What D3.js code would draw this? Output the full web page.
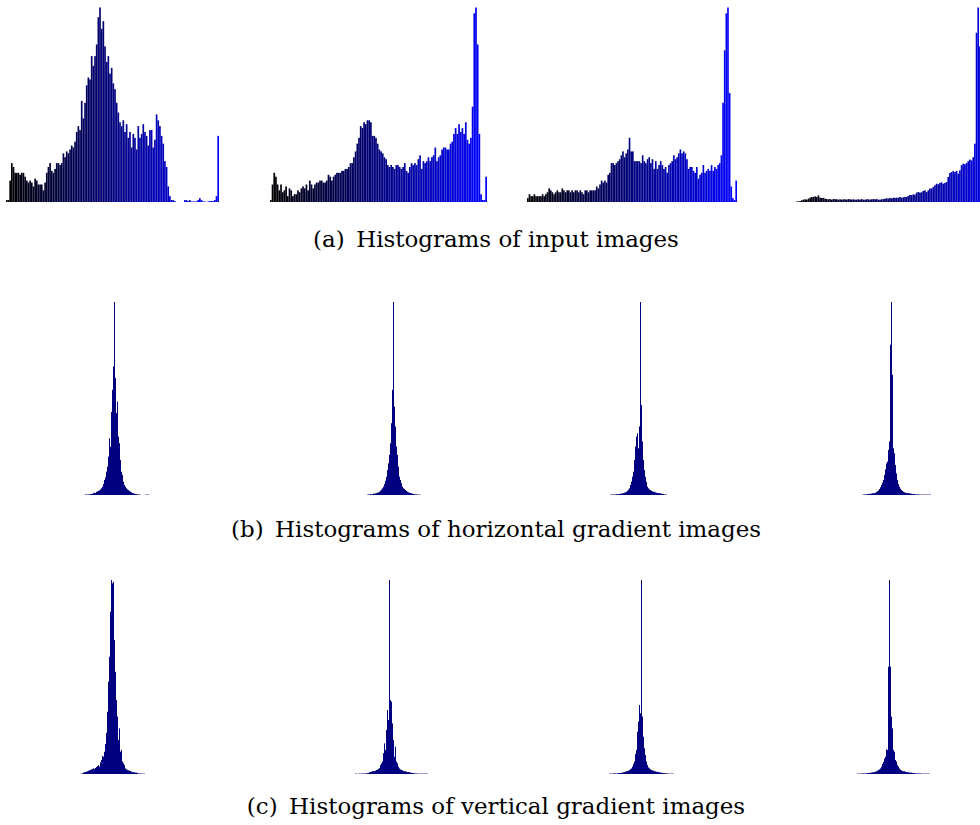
<!DOCTYPE html>
<html><head><meta charset="utf-8">
<script src="https://cdn.jsdelivr.net/npm/d3@7"></script>
<style>html,body{margin:0;padding:0;background:#fff;}svg{display:block;}</style>
</head><body>
<script>
// ---- data: histogram heights (relative counts, each panel's max = 100) ----
const inputHist1 = [1,1,11,20,18,15,15,15,14,15,15,13,11,10,11,10,8,12,11,9,9,9,6,10,15,18,20,16,15,17,20,20,19,20,25,23,26,25,27,29,28,31,36,39,37,52,43,51,60,64,63,75,70,75,81,95,100,89,93,80,72,75,66,69,61,58,51,46,41,39,42,36,40,33,36,28,35,33,27,39,33,35,40,36,34,29,37,37,28,32,45,42,39,34,30,21,18,8,3,1,1,0.5,0,0,0,0,0,1,1,0.5,1,0.3,0.3,0.3,0.3,1,2,1,0.3,0.3,0,0.3,0.5,0.5,0.5,1,3,34];
const inputHist2 = [1,9,15,13,9,6,9,5,6,8,3,7,6,3,4,4,6,5,7,8,7,9,6,11,9,7,9,10,10,11,11,10,10,11,14,13,11,13,14,15,15,15,16,16,17,17,18,20,20,23,26,30,33,39,38,41,40,42,42,41,34,34,33,30,27,26,25,23,22,19,18,19,18,17,19,19,18,17,18,20,16,15,18,20,19,20,19,22,24,17,21,20,21,23,21,23,24,28,21,23,24,27,28,28,27,27,30,31,35,38,35,40,36,38,35,41,32,30,33,49,97,100,81,35,4,1,1,13];
const inputHist3 = [2,4,3,3,4,3,3,3,3,4,3,4,5,7,6,5,4,5,6,5,5,7,6,5,6,6,5,6,5,6,6,5,6,5,4,6,6,5,6,6,6,6,8,7,9,11,10,11,10,14,15,20,20,19,20,21,22,24,26,23,25,27,33,26,26,21,21,21,21,20,24,21,20,22,23,20,22,17,21,17,19,21,19,17,18,15,19,20,21,24,22,23,25,27,25,26,25,22,17,18,18,16,15,18,12,14,15,19,15,16,17,16,19,16,18,17,19,20,24,51,78,97,100,56,8,2,1,11];
const inputHist4 = [0.3,0.3,0.5,0.9,1.2,1.4,1.2,1.7,2.2,2.6,2.6,2.9,2.6,3.4,2.2,2.1,2.1,1.7,1.5,1.4,1.5,1.2,1.5,1.5,1.4,1.2,1.4,1.2,1.4,1.4,1.2,1.5,1.4,1.2,1.4,1.2,1.2,1.4,1.2,1.5,1.2,1.2,1.4,1.4,1.2,1.4,1.5,1.4,1.5,1.2,1.2,1.4,1.5,1.7,1.9,1.7,2.1,1.9,2.2,2.1,2.2,2.2,2.6,2.2,2.4,2.6,2.6,3.1,3.6,3.6,3.9,3.8,4.8,5.1,4.8,5.0,5.7,6.0,5.1,6.0,6.9,7.0,7.7,8.6,9.4,9.1,9.8,10.1,9.4,9.8,10.3,12.9,14.9,15.4,16,15.4,16,14.6,16.3,18.9,19.7,19.4,20,21,21.8,21.4,23,30,87,100,80];
const inputBins = 128; // intensity bins per input histogram (shown range)

const horizHist1 = [0.3,0.3,0.2,0.3,0.3,0.5,0.5,0.7,0.9,1.2,1.0,1.6,1.9,2.1,2.4,2.9,3.5,4.3,5.7,7.8,9.2,12.1,14.7,19.9,29.4,25,43,54.5,66.6,100,60.6,42.4,48.4,30.3,26.8,18.2,12.1,10.4,6.9,5.2,4.3,3.5,2.9,2.6,2.1,1.7,1.4,1.0,0.9,0.7,0.5,0.5,0.3,0.3,0.2,0.2,0,0,0,0,0.2,0.2,0.2,0.2,0];
const horizHist2 = [0.2,0.3,0.3,0.5,0.3,0.5,0.7,0.7,0.9,1.0,1.2,1.4,1.7,2.2,2.8,3.5,4.3,5.7,7.4,9.5,13,16.4,20.8,26.8,37.2,54.5,100,45.8,35.5,25.1,20.8,14.7,9.5,7.8,6.1,4.3,3.5,3.1,2.6,2.1,1.7,1.4,1.2,1.0,0.9,0.7,0.5,0.5,0.3,0.3,0.3,0.2,0.2,0.2];
const horizHist3 = [0.2,0.2,0.3,0.2,0.3,0.3,0.5,0.3,0.5,0.5,0.7,0.7,0.9,1.0,1.2,1.4,1.7,2.2,2.8,3.5,5.2,6.9,9.5,12.1,18.2,25.1,30.3,32,24.2,35.5,100,46.7,27.7,18.2,13,9.5,6.9,4.3,3.5,2.9,2.6,2.1,1.9,1.7,1.6,1.4,1.2,1.0,1.0,0.9,0.9,0.7,0.5,0.5,0.3,0.3,0.2];
const horizHist4 = [0.2,0.2,0.3,0.3,0.3,0.5,0.5,0.5,0.7,0.7,0.9,0.9,1.0,1.2,1.6,1.9,2.4,3.1,4.0,5.2,6.4,7.8,10.4,13.3,16.4,17.3,23.4,27.7,77.9,100,62.3,24.2,21.6,15.6,11.2,7.8,5.7,4.3,3.3,2.6,2.1,1.7,1.4,1.2,1.0,1.0,0.9,0.9,0.7,0.7,0.5,0.5,0.5,0.3,0.3,0.3,0.3,0.3,0.2,0.2,0.2,0.2,0.2,0.2,0.2,0.2,0.2,0.2,0.2];

const vertHist1 = [0.3,0.3,0.7,0.9,1.0,1.2,1.4,1.7,1.9,2.1,2.4,2.6,2.9,2.7,3.1,3.6,4.1,4.6,3.8,6.0,7.2,9.3,8.9,11.5,15.5,21.3,32.1,47.6,60.5,83.7,100,98.3,99.1,69.1,52.7,38.1,29.6,17.5,23.5,11.5,12.4,6.4,5.5,4.6,2.9,2.4,2.1,1.9,1.7,1.5,1.2,1.0,0.9,0.9,0.7,0.7,0.5,0.3,0.3,0.3,0.2,0.2,0.2,0.2];
const vertHist2 = [0.2,0.2,0,0.2,0.2,0.2,0.2,0.3,0.2,0.3,0.3,0.3,0.5,0.5,0.9,1.0,1.2,1.4,1.5,1.5,1.7,2.1,2.2,2.6,3.1,4.6,5.5,6.4,10.7,15.8,12.4,22.7,33,27.8,100,38.1,37.3,26.1,17.5,8.9,14.1,6.4,5.5,3.8,2.9,2.4,2.1,1.9,1.5,1.4,1.4,1.2,1.0,1.0,0.9,0.7,0.7,0.5,0.5,0.3,0.3,0.3,0.2,0.2,0.2,0.2,0.2,0.2,0.2,0.2,0.2,0.2,0.2];
const vertHist3 = [0.2,0.2,0.2,0.2,0.3,0.3,0.3,0.3,0.3,0.5,0.5,0.5,0.7,0.7,0.9,1.0,1.2,1.4,1.5,1.7,2.1,2.4,2.9,3.8,5.2,6.4,10.3,12.4,21.8,27,35.6,31.3,100,29.6,19.2,13.2,9.8,6.4,4.6,3.4,2.9,2.4,2.1,1.9,1.7,1.4,1.4,1.2,1.0,1.0,0.9,0.7,0.7,0.5,0.5,0.5,0.3,0.3,0.3,0.2,0.2,0.2,0.2,0.2,0.2];
const vertHist4 = [0.2,0.2,0.2,0.2,0.2,0.3,0.3,0.3,0.3,0.3,0.5,0.5,0.5,0.7,0.7,0.9,0.9,1.0,1.2,1.4,1.7,2.1,2.4,2.9,3.8,5.2,6.2,7.9,8.9,12.7,12.4,55.3,100,55.3,29.6,23.5,12.4,11.5,7.2,6.4,4.6,3.8,2.9,2.2,1.9,1.5,1.4,1.4,1.2,1.0,0.9,0.9,0.7,0.7,0.7,0.5,0.5,0.5,0.3,0.3,0.3,0.3,0.3,0.3,0.2,0.2,0.2,0.2,0.2,0.2,0.2,0.2,0.2];

const captions = ["(a)\u2002Histograms of input images",
                  "(b)\u2002Histograms of horizontal gradient images",
                  "(c)\u2002Histograms of vertical gradient images"];

// ---- layout (positions/sizes only) ----
const W = 980, H = 825;
const rows = [
  {top: 7.5, base: 202, caption: 247, panels: [
    {data: inputHist1, x0: 6,   w: 213, bins: inputBins},
    {data: inputHist2, x0: 270, w: 217, bins: inputBins},
    {data: inputHist3, x0: 527, w: 210, bins: inputBins},
    {data: inputHist4, x0: 796, w: 213, bins: inputBins}], colorful: true},
  {top: 302, base: 495, caption: 537, panels: [
    {data: horizHist1, x0: 85,  binW: 1},
    {data: horizHist2, x0: 367, binW: 1},
    {data: horizHist3, x0: 610, binW: 1},
    {data: horizHist4, x0: 862, binW: 1}], colorful: false},
  {top: 580, base: 774, caption: 814, panels: [
    {data: vertHist1, x0: 81,  binW: 1},
    {data: vertHist2, x0: 355, binW: 1},
    {data: vertHist3, x0: 609, binW: 1},
    {data: vertHist4, x0: 857, binW: 1}], colorful: false}
];

const svg = d3.select("body").append("svg").attr("width", W).attr("height", H);
const gradColor = d3.interpolateRgb("#000000", "#0000ff");

rows.forEach((row, ri) => {
  row.panels.forEach(p => {
    const n = p.bins || p.data.length;
    const width = p.w || n * p.binW;
    const x = d3.scaleBand().domain(d3.range(n)).range([p.x0, p.x0 + width]).padding(0);
    const y = d3.scaleLinear().domain([0, d3.max(p.data)]).range([row.base, row.top]);
    svg.append("g").selectAll("rect").data(p.data).join("rect")
      .attr("x", (d, i) => x(i))
      .attr("width", x.bandwidth())
      .attr("y", d => y(d))
      .attr("height", d => row.base - y(d))
      .attr("fill", (d, i) => row.colorful ? gradColor(i / (n - 1)) : "#000080");
  });
});

// captions sized to match reference width
const capText = svg.append("g").selectAll("text").data(captions).join("text")
  .attr("x", 496).attr("y", (d, i) => rows[i].caption)
  .attr("text-anchor", "middle")
  .style("font-family", "'DejaVu Serif', serif")
  .style("font-size", "20px").attr("fill", "#000")
  .text(d => d);
const w0 = capText.nodes()[0].getComputedTextLength();
const fs = 20 * 366 / w0;
capText.style("font-size", fs + "px");
</script>
</body></html>
